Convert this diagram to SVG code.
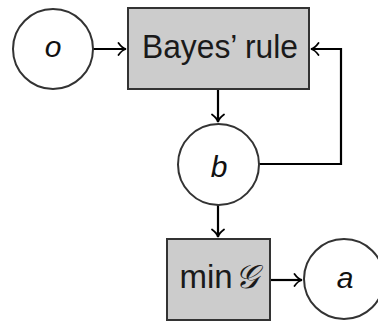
<svg xmlns="http://www.w3.org/2000/svg" width="378" height="323" viewBox="0 0 378 323">
<defs>
<marker id="arr" markerWidth="12" markerHeight="14" refX="9" refY="7" orient="auto" markerUnits="userSpaceOnUse">
<path d="M1.5,1 Q5,6 9,7 Q5,8 1.5,13" fill="none" stroke="#000" stroke-width="1.8" stroke-linecap="round"/>
</marker>
</defs>
<style>
.circ{fill:#fff;stroke:#333;stroke-width:2}
.box{fill:#cccccc;stroke:#333;stroke-width:2}
.lbl{font-family:"Liberation Sans",Arial,sans-serif;font-size:33px;fill:#1a1a1a}
.var{font-family:"Liberation Sans",Arial,sans-serif;font-style:italic;font-size:30px;fill:#111}
.edge{fill:none;stroke:#000;stroke-width:2.2}
</style>
<rect width="378" height="323" fill="#fff"/>
<g id="edges">
<path class="edge" d="M93,49 H126" marker-end="url(#arr)"/>
<path class="edge" d="M218,89 V122" marker-end="url(#arr)"/>
<path class="edge" d="M259,164 H341 V49 H311" marker-end="url(#arr)"/>
<path class="edge" d="M218,205 V237" marker-end="url(#arr)"/>
<path class="edge" d="M270,280 H302" marker-end="url(#arr)"/>
</g>
<g id="node-o">
<circle class="circ" cx="53" cy="49" r="40"/>
<text class="var" x="53" y="57" text-anchor="middle">o</text>
</g>
<g id="node-bayes">
<rect class="box" x="128" y="8" width="181" height="81"/>
<text class="lbl" x="142" y="58" textLength="156" lengthAdjust="spacingAndGlyphs">Bayes’ rule</text>
</g>
<g id="node-b">
<circle class="circ" cx="218.5" cy="164.5" r="40.5"/>
<text class="var" x="219" y="177" text-anchor="middle">b</text>
</g>
<g id="node-min">
<rect class="box" x="167" y="239" width="103" height="81"/>
<text class="lbl" x="218.5" y="288" font-size="30" text-anchor="middle">min<tspan font-family="'DejaVu Serif',serif" font-style="italic" dx="2">𝒢</tspan></text>
</g>
<g id="node-a">
<circle class="circ" cx="344" cy="279" r="40"/>
<text class="var" x="345" y="288" text-anchor="middle">a</text>
</g>
</svg>
